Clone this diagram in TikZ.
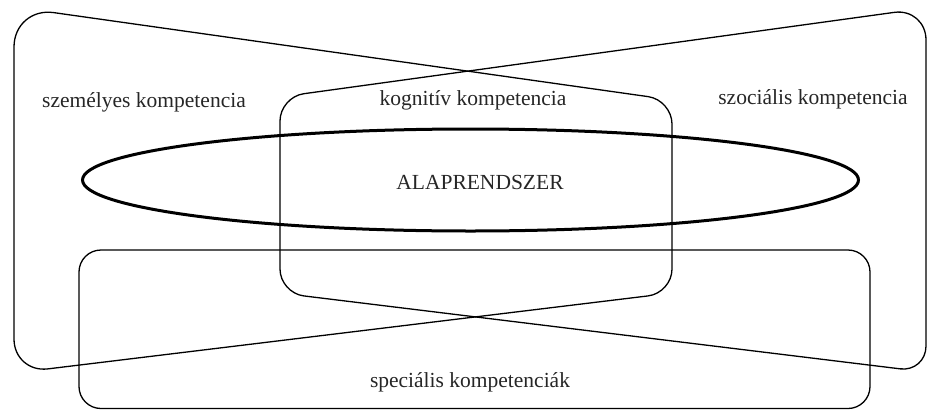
\documentclass[tikz,border=0pt]{standalone}
\usepackage{fontspec}
\setmainfont{Liberation Serif}
\begin{document}
\begin{tikzpicture}[x=1pt,y=-1pt,
  outline/.style={draw=black,line width=1.3pt,line join=round},
  lbl/.style={anchor=base,inner sep=0pt,text=black!85,font=\fontsize{21.5}{24}\selectfont}]
\useasboundingbox (0,0) rectangle (927,410);
% bottom rounded rectangle (speciális)
\draw[outline,rounded corners=22pt] (79,250) rectangle (870,408.5);
% shape A (személyes + right side of kognitív)
\draw[outline] (14,200) [rounded corners=40pt] -- (14,7) [rounded corners=24pt] -- (672,100)
  -- (672,293) [rounded corners=34pt] -- (14,373) -- (14,200);
% shape B (szociális + left side of kognitív)
\draw[outline] (926,200) [rounded corners=32pt] -- (926,8) [rounded corners=24pt] -- (280,97)
  -- (280,293) [rounded corners=26pt] -- (926,372) -- (926,200);
% ellipse
\draw[line width=3pt] (470.5,180) ellipse [x radius=388pt, y radius=51pt];
% labels
\node[lbl] (szem) at (144,107) {személyes kompetencia};
\node[lbl] (kogn) at (473,105) {kognitív kompetencia};
\node[lbl] (szoc) at (813,104) {szociális kompetencia};
\node[lbl] (alap) at (480,189) {ALAPRENDSZER};
\node[lbl] (spec) at (470,387) {speciális kompetenciák};
\end{tikzpicture}
\end{document}
